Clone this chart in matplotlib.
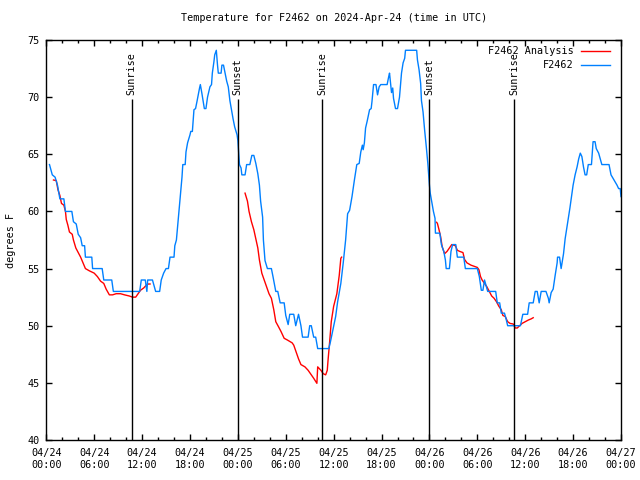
import numpy as np
import pandas as pd
import matplotlib
matplotlib.use("Agg")
import matplotlib.pyplot as plt
import matplotlib.dates as mdates

plt.rcParams['font.family'] = ['DejaVu Sans Mono']
plt.rcParams['font.size'] = 7.3

start = pd.Timestamp("2024-04-24 00:00")

# observed F2462 (hours since start, degrees F)
obs_hours = [0.4, 0.75, 1.1, 1.4, 1.7, 2.2, 2.4, 3.2, 3.4, 3.75, 4.0, 4.3, 4.5, 4.8, 4.9,
             5.7, 5.8, 7.0, 7.2, 8.2, 8.4, 11.7, 11.9, 12.4, 12.6, 12.7, 13.3, 13.7, 14.2,
             14.4, 14.7, 15.0, 15.3, 15.5, 16.0, 16.1, 16.3, 16.5, 16.8, 17.0, 17.1, 17.4,
             17.5, 17.7, 18.0, 18.1, 18.3, 18.5, 18.7, 18.9, 19.2, 19.3, 19.5, 19.8, 20.0,
             20.2, 20.5, 20.7, 20.8, 21.0, 21.1, 21.3, 21.45, 21.55, 21.9, 22.0, 22.2, 22.4,
             22.6, 22.8, 23.0, 23.2, 23.4, 23.6, 23.9, 24.0, 24.2, 24.4, 24.5, 24.9, 25.1,
             25.5, 25.75, 26.0, 26.25, 26.5, 26.7, 26.85, 27.1, 27.2, 27.4, 27.7, 28.2, 28.4,
             28.75, 29.0, 29.3, 29.8, 30.0, 30.3, 30.5, 31.0, 31.25, 31.6, 31.9, 32.1, 32.8,
             33.0, 33.2, 33.5, 33.75, 34.0, 35.4, 35.6, 35.9, 36.25, 36.5, 36.9, 37.2, 37.5,
             37.75, 38.0, 38.3, 38.6, 38.9, 39.2, 39.4, 39.6, 39.7, 39.85, 40.0, 40.2, 40.5,
             40.7, 40.8, 41.0, 41.3, 41.5, 41.7, 41.9, 42.7, 42.9, 43.0, 43.1, 43.25, 43.4,
             43.5, 43.75, 44.0, 44.25, 44.4, 44.5, 44.7, 44.9, 45.0, 46.4, 46.5, 46.7, 46.9,
             47.0, 47.2, 47.3, 47.4, 47.6, 47.8, 48.0, 48.1, 48.3, 48.5, 48.7, 48.75, 49.3,
             49.5, 49.8, 50.0, 50.1, 50.5, 50.7, 50.9, 51.3, 51.5, 52.3, 52.5, 54.0, 54.25,
             54.5, 54.7, 54.9, 55.1, 55.3, 56.3, 56.5, 56.8, 57.0, 57.4, 57.6, 57.8, 59.4,
             59.7, 60.3, 60.5, 61.0, 61.25, 61.5, 61.75, 62.0, 62.6, 62.9, 63.0, 63.25, 63.5,
             63.75, 64.0, 64.05, 64.3, 64.5, 64.8, 65.0, 65.2, 65.4, 65.6, 65.8, 66.0, 66.25,
             66.5, 66.7, 66.9, 67.1, 67.3, 67.5, 67.7, 67.9, 68.3, 68.5, 68.75, 68.9, 69.2,
             69.4, 69.6, 70.5, 70.75, 71.0, 71.25, 71.5, 71.7, 71.9, 72.0]
obs_temp = [64.1, 63.2, 63.0, 62.3, 61.1, 61.1, 60.0, 60.0, 59.1, 58.9, 58.0, 57.7, 57.0, 57.0, 56.0,
            56.0, 55.0, 55.0, 54.0, 54.0, 53.0, 53.0, 54.0, 54.0, 53.0, 54.0, 54.0, 53.0, 53.0,
            54.0, 54.6, 55.0, 55.0, 56.0, 56.0, 57.0, 57.5, 59.1, 61.6, 63.0, 64.1, 64.1,
            65.2, 66.0, 66.7, 67.0, 67.0, 68.9, 69.0, 69.7, 70.8, 71.1, 70.3, 69.0, 69.0,
            70.0, 70.9, 71.1, 72.1, 73.1, 73.7, 74.1, 72.8, 72.1, 72.1, 72.8, 72.8, 72.1,
            71.4, 70.9, 69.7, 68.9, 68.1, 67.4, 66.7, 66.2, 64.1, 63.8, 63.2, 63.2, 64.1,
            64.1, 64.9, 64.9, 64.2, 63.3, 62.3, 60.9, 59.5, 57.5, 55.7, 55.0, 55.0, 54.3,
            53.0, 53.0, 52.0, 52.0, 50.9, 50.1, 51.0, 51.0, 50.0, 51.0, 50.0, 49.0, 49.0,
            50.0, 50.0, 49.0, 49.0, 48.0, 48.0, 48.6, 49.6, 50.8, 52.1, 53.7, 55.5, 57.5,
            59.8, 60.1, 61.3, 62.75, 64.1, 64.2, 65.2, 65.8, 65.4, 66.0, 67.3, 67.9, 68.9,
            69.0, 69.6, 71.1, 71.1, 70.2, 70.9, 71.1, 71.1, 71.8, 72.1, 71.4, 70.4, 70.8,
            69.9, 69.0, 69.0, 70.0, 71.2, 72.1, 73.0, 73.4, 74.1, 74.1, 73.25, 72.4, 71.2,
            69.7, 68.7, 67.9, 67.1, 65.7, 64.2, 62.3, 61.6, 60.8, 60.0, 59.4, 58.1, 58.1,
            57.1, 56.5, 55.75, 55.0, 55.0, 56.5, 57.1, 57.1, 56.0, 56.0, 55.0, 55.0, 54.3,
            53.1, 53.1, 54.0, 53.5, 53.0, 53.0, 52.0, 52.0, 51.1, 51.1, 50.6, 50.0, 50.0,
            51.0, 51.0, 52.0, 52.0, 53.0, 53.0, 52.0, 53.0, 53.0, 52.4, 52.0, 52.9, 53.2,
            54.4, 55.5, 56.0, 56.0, 55.0, 56.3, 57.6, 58.5, 59.4, 60.3, 61.3, 62.3, 63.2,
            63.9, 64.6, 65.1, 64.8, 63.9, 63.2, 63.2, 64.1, 64.1, 66.1, 66.1, 65.5, 65.1,
            64.6, 64.1, 64.1, 63.2, 62.9, 62.6, 62.3, 62.0, 62.0, 61.3]

# analysis runs (three overnight segments, NaN = gap)
ana_hours = [0.9, 1.25, 1.46, 1.7, 1.9, 2.2, 2.4, 2.5, 2.7, 2.9, 3.25, 3.4, 3.7, 4.0, 4.3, 4.6,
             4.9, 5.4, 6.0, 6.4, 6.8, 7.2, 7.5, 7.9, 8.3, 8.75, 9.3, 9.8, 10.4, 10.8, 11.2,
             11.5, 11.8, 12.2, 12.6, 12.8, 13.0, 13.01,
             24.9, 25.2, 25.4, 25.7, 26.0, 26.25, 26.5, 26.7, 27.0, 27.3, 27.6, 27.9, 28.2,
             28.5, 28.75, 29.1, 29.4, 29.8, 30.2, 30.8, 31.0, 31.3, 31.6, 31.9, 32.4, 32.8,
             33.1, 33.5, 33.9, 34.0, 34.4, 34.7, 35.0, 35.2, 35.3, 35.5, 35.7, 36.0, 36.4,
             36.7, 36.9, 37.0, 37.01,
             48.9, 49.0, 49.2, 49.4, 49.6, 49.8, 49.9, 50.2, 50.5, 50.8, 51.25, 51.5, 51.8,
             52.2, 52.4, 52.7, 53.2, 53.6, 54.0, 54.2, 54.4, 54.6, 54.9, 55.2, 55.5, 55.8,
             56.1, 56.4, 56.7, 57.0, 57.2, 57.5, 57.8, 58.1, 58.5, 58.75, 59.0, 59.3, 59.6,
             60.0, 60.4, 60.75, 61.0]
ana_temp = [62.75, 62.7, 61.9, 61.4, 60.7, 60.55, 60.0, 59.3, 58.8, 58.2, 58.0, 57.5, 56.8, 56.4,
            56.0, 55.5, 55.0, 54.8, 54.6, 54.3, 53.9, 53.7, 53.2, 52.7, 52.7, 52.8, 52.8, 52.7,
            52.6, 52.5, 52.5, 52.8, 53.1, 53.3, 53.6, 53.65, 53.65, np.nan,
            61.6, 60.9, 60.0, 59.1, 58.4, 57.6, 56.8, 55.75, 54.6, 54.0, 53.4, 52.8, 52.4,
            51.4, 50.35, 49.9, 49.5, 48.9, 48.75, 48.5, 48.3, 47.7, 47.1, 46.6, 46.4, 46.1,
            45.8, 45.4, 44.96, 46.4, 46.1, 45.8, 45.7, 46.1, 47.0, 48.6, 50.35, 51.7, 52.8,
            54.4, 55.9, 56.0, np.nan,
            59.05, 58.95, 58.4, 57.8, 56.9, 56.5, 56.3, 56.5, 56.8, 57.1, 57.0, 56.6, 56.5,
            56.4, 55.8, 55.5, 55.3, 55.2, 55.1, 54.9, 54.3, 54.0, 53.7, 53.4, 53.0, 52.6,
            52.4, 52.1, 51.7, 51.4, 50.9, 50.8, 50.35, 50.2, 50.15, 49.8, 49.8, 50.0, 50.2,
            50.35, 50.5, 50.6, 50.7]

event_hours = [10.7, 24.0, 34.6, 48.0, 58.65]
event_names = ["Sunrise", "Sunset", "Sunrise", "Sunset", "Sunrise"]

obs_t = start + pd.to_timedelta(obs_hours, unit="h")
ana_t = start + pd.to_timedelta(ana_hours, unit="h")
ev_t = start + pd.to_timedelta(event_hours, unit="h")

fig = plt.figure(figsize=(6.4, 4.8), dpi=100)
ax = fig.add_axes([46.3/640, 40/480, 574.7/640, 400/480])

ax.plot(ana_t, ana_temp, color="#ff0000", lw=1.0, label="F2462 Analysis")
ax.plot(obs_t, obs_temp, color="#0080ff", lw=1.0, label="F2462")

ax.vlines(ev_t, 40, 69.8, color="black", lw=1.0)
for t, name in zip(ev_t, event_names):
    ax.text(t, 70.15, name, rotation=90, ha="center", va="bottom")

ax.set_xlim(start, start + pd.Timedelta(hours=72))
ax.set_ylim(40, 75)
ax.set_yticks(np.arange(40, 76, 5))
ax.xaxis.set_major_locator(mdates.HourLocator(byhour=[0, 6, 12, 18]))
ax.xaxis.set_minor_locator(mdates.HourLocator(byhour=range(0, 24, 2)))
ax.xaxis.set_major_formatter(mdates.DateFormatter("%m/%d\n%H:%M"))
ax.tick_params(which="both", direction="in", top=True, right=True, width=1.0, colors="black")
ax.tick_params(which="major", length=4.5, pad=6)
ax.tick_params(which="minor", length=2.5)
ax.tick_params(axis="y", pad=5)
for s in ax.spines.values():
    s.set_linewidth(1.0)

ax.set_title("Temperature for F2462 on 2024-Apr-24 (time in UTC)", fontsize=7.3, pad=14)
ax.set_ylabel("degrees F")
ax.yaxis.set_label_coords(-0.052, 0.5)

ax.legend(loc="upper right", bbox_to_anchor=(0.992, 1.0), frameon=False, markerfirst=False,
          handlelength=2.9, handletextpad=0.75, labelspacing=0.4, borderaxespad=0.2)

fig.savefig("out.png", dpi=100)
